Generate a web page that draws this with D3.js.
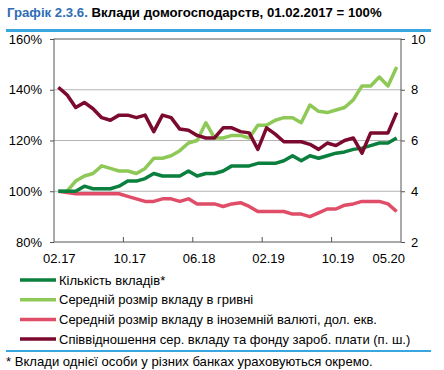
<!DOCTYPE html>
<html><head><meta charset="utf-8">
<script src="https://cdn.jsdelivr.net/npm/d3@7"></script>
<style>body{margin:0;background:#fff;}svg{display:block;font-family:"Liberation Sans",Arial,sans-serif;}</style>
</head><body>
<svg id="c" width="444" height="370"></svg>
<script>
const months = ["02.17","03.17","04.17","05.17","06.17","07.17","08.17","09.17","10.17","11.17","12.17",
"01.18","02.18","03.18","04.18","05.18","06.18","07.18","08.18","09.18","10.18","11.18","12.18",
"01.19","02.19","03.19","04.19","05.19","06.19","07.19","08.19","09.19","10.19","11.19","12.19",
"01.20","02.20","03.20","04.20","05.20"];
const tickLabels = ["02.17","10.17","06.18","02.19","10.19","05.20"];
const countDeposits = [100,100,100,102,101,101,101,102,104,104,105,107,106,106,106,108,106,107,107,108,110,110,110,111,111,111,112,114,112,114,113,114,115,115.5,116.5,117,118,119,119,121];
const avgUah = [100,100,104,106,107,110,109,108,108,107,109,113,113,114,116,119,120,127,121,121,122,122,121,126,126,128,129,129,127,134,131.5,131,132,133,136,141.5,141.5,145,141.5,149];
const avgFx = [100,99.5,99,99,99,99,99,99,98,97,96,96,97,97,96,97,95,95,95,94,95,95.5,94,92,92,92,92,91,91,90,91.5,93,93,94.5,95,96,96,96,95,92];
const ratio = [8.1,7.8,7.3,7.5,7.25,6.9,6.8,7.0,7.0,6.9,7.0,6.35,7.0,6.9,6.45,6.4,6.2,6.1,6.1,6.5,6.5,6.35,6.3,5.65,6.5,6.25,5.95,5.95,5.95,5.85,5.65,5.9,5.8,6.0,6.1,5.5,6.3,6.3,6.3,7.1];
const leftTicks = [80,100,120,140,160];
const rightTicks = [2,4,6,8,10];
const seriesNames = ["Кількість вкладів*","Середній розмір вкладу в гривні","Середній розмір вкладу в іноземній валюті, дол. екв.","Співвідношення сер. вкладу та фонду зароб. плати (п. ш.)"];
const colors = ["#0b7f3e","#8ec957","#e04d68","#7b0a2e"];

const svg = d3.select("#c");
const L=54,R=401,T=39,B=242;
const x = d3.scaleBand().domain(d3.range(months.length)).range([L,R]).padding(0);
const bw = x.bandwidth();
const cx = i => x(i)+bw/2;
const yL = d3.scaleLinear().domain([80,160]).range([B,T]);
const yR = d3.scaleLinear().domain([2,10]).range([B,T]);

// title
const title = svg.append("text").attr("x",7).attr("y",17).attr("font-size",13.2).attr("font-weight","bold");
title.append("tspan").attr("fill","#2f6db5").text("Графік 2.3.6. ");
title.append("tspan").attr("fill","#000").text("Вклади домогосподарств, 01.02.2017 = 100%");
svg.append("rect").attr("x",6).attr("y",29).attr("width",425).attr("height",3).attr("fill","#3aa6df");

// grid
svg.append("g").selectAll("line").data(leftTicks.filter(d=>d>80&&d<160)).join("line")
 .attr("x1",L).attr("x2",R).attr("y1",d=>yL(d)).attr("y2",d=>yL(d)).attr("stroke","#b4b4b4").attr("stroke-width",1);

// frame
svg.append("rect").attr("x",L).attr("y",T).attr("width",R-L).attr("height",B-T).attr("fill","none").attr("stroke","#555").attr("stroke-width",1);

// axes
const gl = svg.append("g").attr("transform",`translate(${L},0)`)
 .call(d3.axisLeft(yL).tickValues(leftTicks).tickSize(4).tickFormat(d=>d+"%"));
const gr = svg.append("g").attr("transform",`translate(${R},0)`)
 .call(d3.axisRight(yR).tickValues(rightTicks).tickSize(4).tickFormat(d3.format("d")));
[gl,gr].forEach(g=>{g.select(".domain").remove();g.selectAll(".tick line").attr("stroke","#555");
 g.selectAll("text").attr("font-size",13).attr("fill","#000").attr("font-family","Liberation Sans, Arial, sans-serif");});
gl.selectAll("text").attr("x",-12);
gr.selectAll("text").attr("x",10);

// x ticks (between categories, inward)
const bounds = [8,16,24,32];
svg.append("g").selectAll("line").data(bounds).join("line")
 .attr("x1",d=>x(d)).attr("x2",d=>x(d)).attr("y1",B).attr("y2",B-5).attr("stroke","#555");
const labIdx = [0,8,16,24,32,39];
svg.append("g").selectAll("text").data(labIdx).join("text")
 .attr("x",(d,i)=> i===5 ? R+4 : cx(d)+ (i===0?1:2)).attr("y",263)
 .attr("text-anchor",(d,i)=> i===5?"end":"middle").attr("font-size",13).attr("fill","#000")
 .text((d,i)=>tickLabels[i]);

// lines
const data = [
 {v:countDeposits,y:yL,c:colors[0]},
 {v:avgUah,y:yL,c:colors[1]},
 {v:avgFx,y:yL,c:colors[2]},
 {v:ratio,y:yR,c:colors[3]}
];
const drawOrder=[2,1,0,3];
drawOrder.forEach(k=>{
 const s=data[k];
 svg.append("path").datum(s.v).attr("fill","none").attr("stroke",s.c).attr("stroke-width",3.5)
  .attr("stroke-linejoin","round")
  .attr("d",d3.line().x((d,i)=>cx(i)).y(d=>s.y(d)));
});

// legend
const lg = svg.append("g");
seriesNames.forEach((n,i)=>{
 const yy = 280 + i*19.7;
 lg.append("line").attr("x1",20).attr("x2",56).attr("y1",yy).attr("y2",yy).attr("stroke",colors[i]).attr("stroke-width",3.5);
 lg.append("text").attr("x",59).attr("y",yy+4.5).attr("font-size",13).attr("fill","#000").text(n);
});
svg.append("rect").attr("x",6).attr("y",350).attr("width",425).attr("height",2).attr("fill","#3aa6df");
svg.append("text").attr("x",6).attr("y",366).attr("font-size",13.1).attr("fill","#000").text("* Вклади однієї особи у різних банках ураховуються окремо.");
</script>
</body></html>
